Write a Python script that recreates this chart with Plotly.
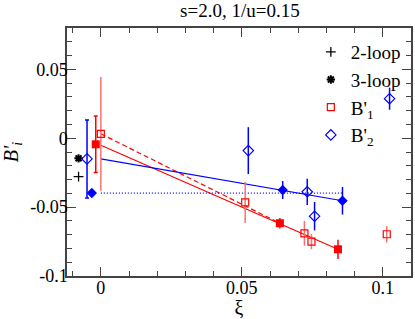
import plotly.graph_objects as go

# Perturbative references
loop2_x = [-0.0079]
loop2_y = [-0.0279]
loop3_x = [-0.0079]
loop3_y = [-0.0146]

# B'_1 open squares (data) and extrapolation
b1_open_x = [0.0512, 0.0722, 0.0747, 0.1014]
b1_open_y = [-0.0466, -0.0690, -0.0750, -0.0697]
b1_open_e = [0.0150, 0.0090, 0.0055, 0.0060]
b1_open_ex_x = [0.0]
b1_open_ex_y = [0.0032]
b1_open_ex_e = [0.0413]

# B'_1 filled squares and extrapolation
b1_fill_x = [0.0635, 0.0841]
b1_fill_y = [-0.0617, -0.0806]
b1_fill_e = [0.0038, 0.0070]
b1_fill_ex_x = [-0.0018]
b1_fill_ex_y = [-0.0044]
b1_fill_ex_e = [0.0205]

# B'_2 open diamonds and extrapolation
b2_open_x = [0.0523, 0.0732, 0.0758, 0.1024]
b2_open_y = [-0.0090, -0.0389, -0.0566, 0.0287]
b2_open_e = [0.0170, 0.0095, 0.0103, 0.0080]
b2_open_ex_x = [-0.0049]
b2_open_ex_y = [-0.0150]
b2_open_ex_e = [0.0283]

# B'_2 filled diamonds and extrapolation
b2_fill_x = [0.0645, 0.0857]
b2_fill_y = [-0.0376, -0.0454]
b2_fill_e = [0.0065, 0.0100]
b2_fill_ex_x = [-0.0032]
b2_fill_ex_y = [-0.0398]

# Fit lines
fit_b1_fill_x = [0.0, 0.0841]
fit_b1_fill_y = [-0.0051, -0.0806]
fit_b1_open_x = [0.0, 0.0635]
fit_b1_open_y = [0.0032, -0.0617]
fit_b2_open_x = [0.0, 0.0857]
fit_b2_open_y = [-0.0150, -0.0454]
fit_b2_fill_x = [0.0, 0.0857]
fit_b2_fill_y = [-0.0398, -0.0398]

RED = "#ff0000"
LRED = "#ff7070"
BLUE = "#0000ff"
SERIF = "Liberation Serif, Times New Roman, serif"

fig = go.Figure()

# fit lines
fig.add_trace(go.Scatter(x=fit_b1_fill_x, y=fit_b1_fill_y, mode="lines",
                         line=dict(color=RED, width=1.2), showlegend=False, hoverinfo="skip"))
fig.add_trace(go.Scatter(x=fit_b1_open_x, y=fit_b1_open_y, mode="lines",
                         line=dict(color=RED, width=1.2, dash="5px,3px"), showlegend=False, hoverinfo="skip"))
fig.add_trace(go.Scatter(x=fit_b2_open_x, y=fit_b2_open_y, mode="lines",
                         line=dict(color=BLUE, width=1.2), showlegend=False, hoverinfo="skip"))
fig.add_trace(go.Scatter(x=fit_b2_fill_x, y=fit_b2_fill_y, mode="lines",
                         line=dict(color=BLUE, width=1.2, dash="1px,2px"), showlegend=False, hoverinfo="skip"))

# legend traces
fig.add_trace(go.Scatter(x=loop2_x, y=loop2_y, mode="markers", name="2-loop",
                         marker=dict(symbol="cross-thin-open", size=7, color="black",
                                     line=dict(color="black", width=1.3))))
fig.add_trace(go.Scatter(x=loop3_x, y=loop3_y, mode="markers", name="3-loop",
                         marker=dict(symbol="asterisk-open", size=7, color="black",
                                     line=dict(color="black", width=2))))
fig.add_trace(go.Scatter(x=b1_open_x, y=b1_open_y, mode="markers", name="B'<sub>1</sub>",
                         error_y=dict(type="data", array=b1_open_e, color=LRED, thickness=1.5, width=0),
                         marker=dict(symbol="square-open", size=7, color=RED,
                                     line=dict(color=RED, width=1.2))))
fig.add_trace(go.Scatter(x=b2_open_x, y=b2_open_y, mode="markers", name="B'<sub>2</sub>",
                         error_y=dict(type="data", array=b2_open_e, color=BLUE, thickness=1.5, width=0),
                         marker=dict(symbol="diamond-open", size=8, color=BLUE,
                                     line=dict(color=BLUE, width=1.2))))

# extras
fig.add_trace(go.Scatter(x=b1_open_ex_x, y=b1_open_ex_y, mode="markers", showlegend=False,
                         error_y=dict(type="data", array=b1_open_ex_e, color=LRED, thickness=1.5, width=0),
                         marker=dict(symbol="square-open", size=7, color=RED,
                                     line=dict(color=RED, width=1.2))))
fig.add_trace(go.Scatter(x=b2_open_ex_x, y=b2_open_ex_y, mode="markers", showlegend=False,
                         error_y=dict(type="data", array=b2_open_ex_e, color=BLUE, thickness=1.5, width=2),
                         marker=dict(symbol="diamond-open", size=8, color=BLUE,
                                     line=dict(color=BLUE, width=1.2))))
fig.add_trace(go.Scatter(x=b1_fill_x, y=b1_fill_y, mode="markers", showlegend=False,
                         error_y=dict(type="data", array=b1_fill_e, color=RED, thickness=1.5, width=0),
                         marker=dict(symbol="square", size=8, color=RED)))
fig.add_trace(go.Scatter(x=b1_fill_ex_x, y=b1_fill_ex_y, mode="markers", showlegend=False,
                         error_y=dict(type="data", array=b1_fill_ex_e, color=RED, thickness=1.5, width=2),
                         marker=dict(symbol="square", size=8, color=RED)))
fig.add_trace(go.Scatter(x=b2_fill_x, y=b2_fill_y, mode="markers", showlegend=False,
                         error_y=dict(type="data", array=b2_fill_e, color=BLUE, thickness=1.5, width=0),
                         marker=dict(symbol="diamond", size=8, color=BLUE)))
fig.add_trace(go.Scatter(x=b2_fill_ex_x, y=b2_fill_ex_y, mode="markers", showlegend=False,
                         marker=dict(symbol="diamond", size=8, color=BLUE)))

axis_common = dict(
    showline=True, linecolor="#444444", linewidth=1.5, mirror="allticks",
    ticks="inside", ticklen=9, tickwidth=1.2, tickcolor="#444444",
    showgrid=False, zeroline=False, automargin=False,
    tickfont=dict(family=SERIF, size=18, color="black"),
)

fig.update_layout(
    template="none",
    width=415, height=319,
    margin=dict(l=67, r=4, t=28, b=43, pad=0),
    paper_bgcolor="white", plot_bgcolor="white",
    title=dict(text="s=2.0, 1/u=0.15", x=0.578, xanchor="center", y=0.99, yanchor="top",
               font=dict(family=SERIF, size=19, color="black")),
    xaxis=dict(range=[-0.012, 0.11], tickvals=[0, 0.05, 0.1], ticktext=["0", "0.05", "0.1"],
               minor=dict(dtick=0.01, tick0=0, ticks="inside", ticklen=5, tickcolor="#444444"),
               ticklabelstandoff=-5,
               title=dict(text="ξ", font=dict(family=SERIF, size=20, color="black"), standoff=14),
               **axis_common),
    yaxis=dict(range=[-0.1, 0.08], tickvals=[-0.1, -0.05, 0, 0.05], ticktext=["-0.1", "-0.05", "0", "0.05"],
               minor=dict(dtick=0.01, tick0=0, ticks="inside", ticklen=5, tickcolor="#444444"),
               ticklabelstandoff=-6,
               title=dict(text="<i>B'<sub>i</sub></i>", font=dict(family=SERIF, size=20, color="black"), standoff=8),
               **axis_common),
    legend=dict(x=0.985, xanchor="right", y=0.98, yanchor="top", bgcolor="rgba(0,0,0,0)",
                font=dict(family=SERIF, size=19, color="black"), itemwidth=30,
                tracegroupgap=0),
    showlegend=True,
)

fig.write_html("out.html", config={"displayModeBar": False},
               post_script="document.body.style.margin='0';")
